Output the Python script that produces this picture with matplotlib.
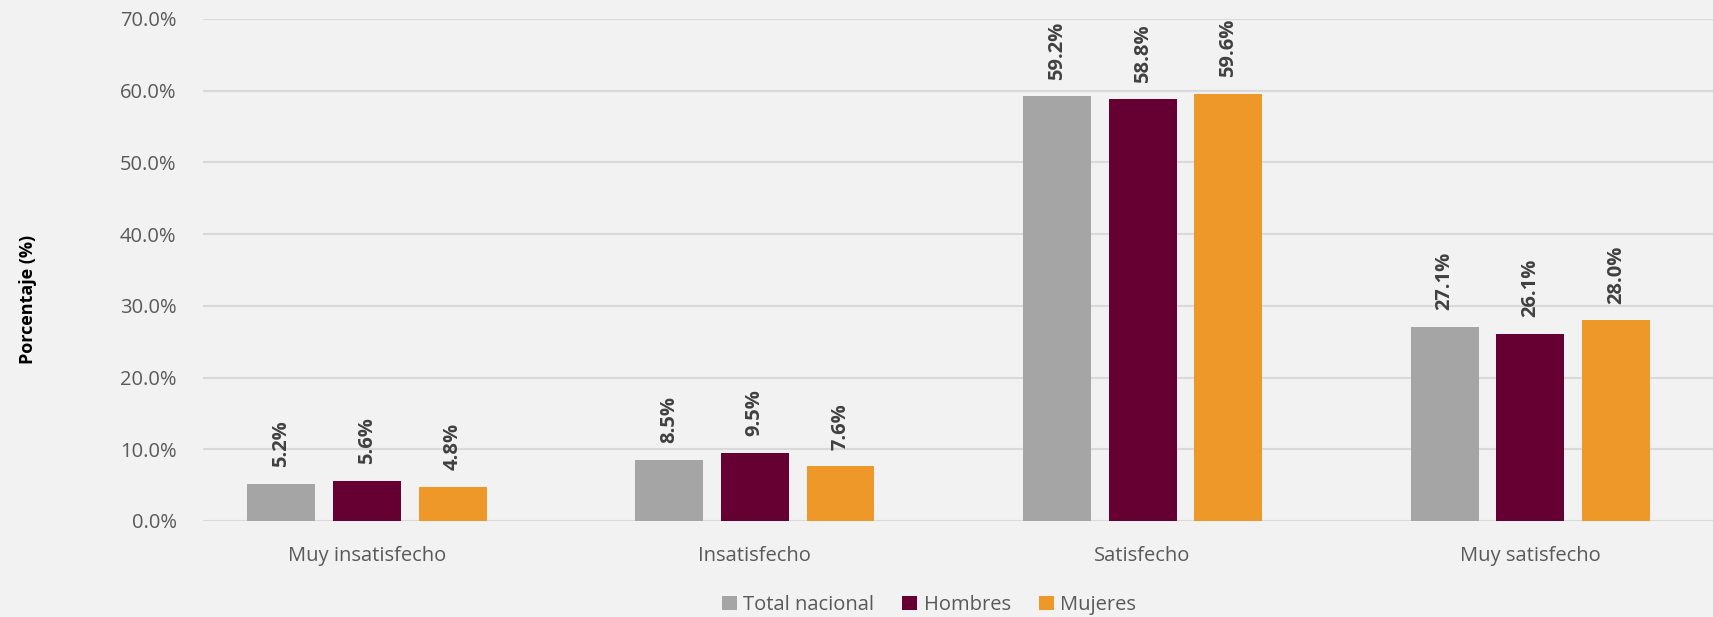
import numpy as np
import matplotlib
matplotlib.use("Agg")
import matplotlib.pyplot as plt
from matplotlib.ticker import FuncFormatter

# --- DATA ---
categories = ["Muy insatisfecho", "Insatisfecho", "Satisfecho", "Muy satisfecho"]
series_names = ["Total nacional", "Hombres", "Mujeres"]
total_nacional = [5.2, 8.5, 59.2, 27.1]
hombres = [5.6, 9.5, 58.8, 26.1]
mujeres = [4.8, 7.6, 59.6, 28.0]
y_ticks = [0, 10, 20, 30, 40, 50, 60, 70]

# --- STYLE ---
plt.rcParams['font.family'] = ['Open Sans', 'DejaVu Sans']
BG = '#F2F2F2'
colors = ['#A5A5A5', '#660033', '#EE9829']

W, H = 1713, 617
fig = plt.figure(figsize=(W / 100, H / 100), dpi=100, facecolor=BG)
ax = fig.add_axes([203 / W, (H - 521) / H, (W - 203) / W, (521 - 19) / H])
ax.set_facecolor(BG)

x = np.arange(len(categories))
bar_w = 0.175
offset = 0.221
all_series = [total_nacional, hombres, mujeres]

for i, (vals, name, col) in enumerate(zip(all_series, series_names, colors)):
    pos = x + (i - 1) * offset
    ax.bar(pos, vals, width=bar_w, color=col, label=name, zorder=3)
    for xp, v in zip(pos, vals):
        ax.annotate(f"{v:.1f}%", (xp, v), xytext=(0, 12), textcoords='offset points',
                    rotation=90, ha='center', va='bottom', fontsize=14.5,
                    fontweight='bold', color='#404040')

ax.set_ylim(0, 70)
ax.set_xlim(-0.423, 3.471)
ax.set_yticks(y_ticks)
ax.yaxis.set_major_formatter(FuncFormatter(lambda v, p: f"{v:.1f}%"))
ax.set_xticks(x)
ax.set_xticklabels(categories)

ax.grid(axis='y', color='#D9D9D9', linewidth=1.5, zorder=0)
for s in ax.spines.values():
    s.set_visible(False)
ax.tick_params(axis='both', length=0, labelsize=14.5, colors='#595959')
ax.tick_params(axis='y', pad=19)
ax.tick_params(axis='x', pad=18)

fig.text(28 / W, 1 - 299 / H, "Porcentaje (%)", rotation=90, ha='center', va='center',
         fontsize=13, fontweight='bold', color='#000000')

fig.legend(loc='center', bbox_to_anchor=(929 / W, 1 - 605 / H), ncol=3, frameon=False,
           fontsize=14.5, labelcolor='#595959', handlelength=0.75, handleheight=0.75,
           handletextpad=0.3, columnspacing=1.4)

plt.savefig('out.png', dpi=100, facecolor=BG)
